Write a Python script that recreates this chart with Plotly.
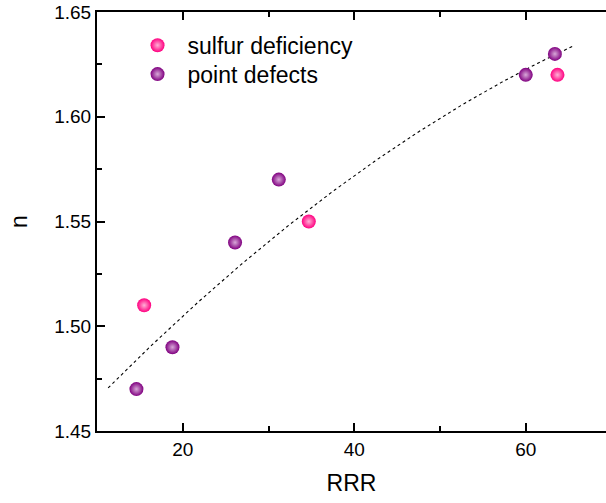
import numpy as np
import plotly.graph_objects as go

# Measured samples: refractive index n against residual resistivity ratio (RRR)
sulfur_rrr = [15.5, 34.7, 63.7]
sulfur_n = [1.51, 1.55, 1.62]

point_rrr = [14.6, 18.8, 26.1, 31.2, 60.0, 63.4]
point_n = [1.47, 1.49, 1.54, 1.57, 1.62, 1.63]

# Trend line: quadratic n = c0 + c1*RRR + c2*RRR^2 over its plotted span
fit_c0, fit_c1, fit_c2 = 1.4215, 0.004574, -2.037e-5
fit_start, fit_end = 11.3, 65.5
fit_x = np.linspace(fit_start, fit_end, 200)
fit_y = fit_c0 + fit_c1 * fit_x + fit_c2 * fit_x ** 2

FONT = "Liberation Sans, Arial, sans-serif"
PINK = "#ff0080"
PURPLE = "#800080"

fig = go.Figure()

fig.add_trace(go.Scatter(
    x=fit_x, y=fit_y, mode="lines",
    line=dict(color="black", width=1.1, dash="dot"),
    showlegend=False, hoverinfo="skip",
))

fig.add_trace(go.Scatter(
    x=sulfur_rrr, y=sulfur_n, mode="markers", name="sulfur deficiency",
    legend="legend",
    marker=dict(size=14, color=PINK, line=dict(width=0),
                gradient=dict(type="radial", color="#ffb0d6")),
))
fig.add_trace(go.Scatter(
    x=point_rrr, y=point_n, mode="markers", name="point defects",
    legend="legend2",
    marker=dict(size=14, color=PURPLE, line=dict(width=0),
                gradient=dict(type="radial", color="#d8a8d8")),
))

axis_common = dict(
    showgrid=False, zeroline=False,
    showline=True, linecolor="black", linewidth=2,
    ticks="inside", ticklen=8, tickwidth=2, tickcolor="black",
    tickfont=dict(family=FONT, size=19, color="black"),
    title_font=dict(family=FONT, size=23, color="black"),
)

fig.update_xaxes(
    range=[10, 69.36], tick0=0, dtick=20, mirror="ticks",
    minor=dict(dtick=10, ticks="inside", ticklen=5, tickwidth=2, tickcolor="black"),
    title_text="RRR", title_standoff=16,
    **axis_common,
)
fig.update_yaxes(
    range=[1.45, 1.65], tick0=1.45, dtick=0.05, tickformat=".2f",
    minor=dict(dtick=0.025, ticks="inside", ticklen=5, tickwidth=2, tickcolor="black"),
    title_text="n", title_standoff=20,
    **axis_common,
)

legend_style = dict(
    xanchor="left", yanchor="top",
    bgcolor="rgba(0,0,0,0)", borderwidth=0,
    font=dict(family=FONT, size=23, color="black"),
    itemwidth=50,
)

fig.update_layout(
    width=606, height=503,
    margin=dict(l=97, r=0, t=12, b=72),
    paper_bgcolor="white", plot_bgcolor="white",
    showlegend=True,
    legend=dict(x=0.060, y=0.972, **legend_style),
    legend2=dict(x=0.060, y=0.903, **legend_style),
)

fig.write_html("out.html")
